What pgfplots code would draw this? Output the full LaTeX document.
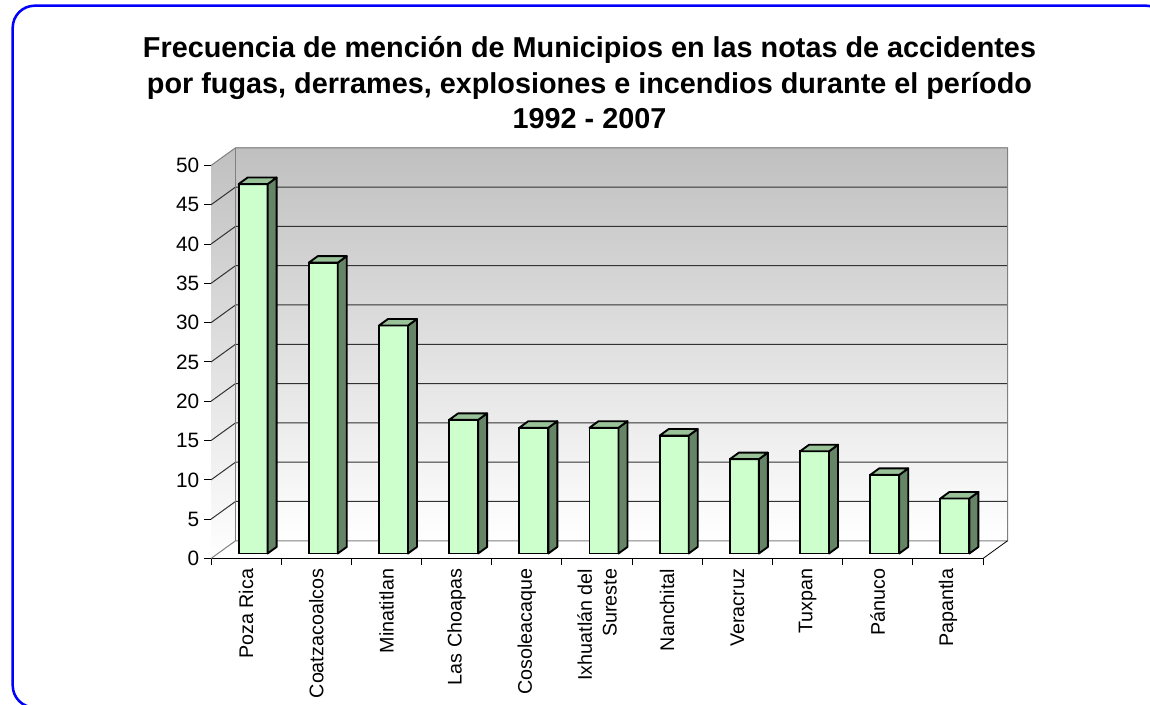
\documentclass[border=0pt]{standalone}
\usepackage{pgfplots}
\pgfplotsset{compat=1.18}
\usepackage{pgfplotstable}
\usepackage{fontspec}
\setmainfont{Liberation Sans}
\definecolor{barfront}{RGB}{204,255,204}
\definecolor{bartop}{RGB}{153,194,153}
\definecolor{barside}{RGB}{102,133,102}
\definecolor{wallgray}{RGB}{192,192,192}
\definecolor{edgegray}{RGB}{128,128,128}
\definecolor{gridc}{RGB}{50,50,50}
\definecolor{frameblue}{RGB}{0,0,255}

\pgfplotstableread{
x v
0 47
1 37
2 29
3 17
4 16
5 16
6 15
7 12
8 13
9 10
10 7
}\datatable

\pgfdeclareplotmark{emptymark}{}

\begin{document}
\begin{tikzpicture}[x=0.75pt,y=0.75pt]
\useasboundingbox (0,0) rectangle (1150,705);
\clip (0,0) rectangle (1150,705);
\draw[frameblue, line width=1.9pt, rounded corners=16.5pt] (12.7,-2.5) rectangle (1168,699.3);
\node[align=center, font=\fontsize{21.6}{26.6}\selectfont\bfseries] at (589.5,622)
  {Frecuencia de mención de Municipios en las notas de accidentes\\por fugas, derrames, explosiones e incendios durante el período\\1992 - 2007};
\begin{axis}[
  at={(158.25pt,109.875pt)}, anchor=south west,
  scale only axis, width=579pt, height=294.75pt,
  xmin=-0.5, xmax=10.5, ymin=0, ymax=50,
  clip=false,
  axis x line*=bottom, axis y line*=left,
  x axis line style={black, line width=0.75pt},
  y axis line style={edgegray, line width=0.75pt},
  ytick={0,5,...,50},
  xtick={-0.5,0.5,...,10.5},
  xticklabels={},
  tick align=outside,
  major tick length=5.25pt,
  tick style={black, line width=0.75pt},
  /pgf/number format/assume math mode=true,
  yticklabel style={font=\fontsize{15.6}{18}\selectfont},
  extra x ticks={0,...,10},
  extra x tick labels={Poza Rica,Coatzacoalcos,Minatitlan,Las Choapas,Cosoleacaque,{Ixhuatlán del\\Sureste},Nanchital,Veracruz,Tuxpan,Pánuco,Papantla},
  extra x tick style={major tick length=0pt, tick label style={rotate=90, anchor=east, align=right, font=\fontsize{14.8}{18.5}\selectfont, xshift=-4.2pt}},
]
% walls
\path[top color=wallgray, bottom color=white]
  ([xshift=18.4pt,yshift=13.3pt]axis cs:-0.5,0) rectangle ([xshift=18.4pt,yshift=13.3pt]axis cs:10.5,50);
\path[top color=wallgray, bottom color=white]
  (axis cs:-0.5,0) -- (axis cs:-0.5,50) -- ([xshift=18.4pt,yshift=13.3pt]axis cs:-0.5,50) -- ([xshift=18.4pt,yshift=13.3pt]axis cs:-0.5,0) -- cycle;
\pgfplotsinvokeforeach{5,10,...,45}{
  \draw[gridc, line width=0.75pt] (axis cs:-0.5,#1) -- ([xshift=18.4pt,yshift=13.3pt]axis cs:-0.5,#1) -- ([xshift=18.4pt,yshift=13.3pt]axis cs:10.5,#1);
}
\draw[edgegray, line width=0.75pt] (axis cs:-0.5,0) -- ([xshift=18.4pt,yshift=13.3pt]axis cs:-0.5,0) -- ([xshift=18.4pt,yshift=13.3pt]axis cs:10.5,0) -- ([xshift=18.4pt,yshift=13.3pt]axis cs:10.5,50) -- ([xshift=18.4pt,yshift=13.3pt]axis cs:-0.5,50) -- (axis cs:-0.5,50);
\draw[edgegray, line width=0.75pt] ([xshift=18.4pt,yshift=13.3pt]axis cs:-0.5,0) -- ([xshift=18.4pt,yshift=13.3pt]axis cs:-0.5,50);
\draw[black, line width=0.6pt] (axis cs:10.5,0) -- ([xshift=18.4pt,yshift=13.3pt]axis cs:10.5,0);
% bar top and side faces
\addplot[only marks, scatter, mark=emptymark,
  visualization depends on={rawy \as \barval},
  scatter/@pre marker code/.code={
    \pgfmathsetlengthmacro\yb{3.75pt-\barval*5.895pt}
    \pgfmathsetlengthmacro\ybb{8.65pt-\barval*5.895pt}
    \filldraw[fill=barside, draw=black, line width=1.4pt, line join=round] (16.125pt,\yb) -- (22.875pt,\ybb) -- (22.875pt,8.65pt) -- (16.125pt,3.75pt) -- cycle;
    \filldraw[fill=bartop, draw=black, line width=1.4pt, line join=round] (-5.625pt,3.75pt) -- (1.125pt,8.65pt) -- (22.875pt,8.65pt) -- (16.125pt,3.75pt) -- cycle;
  },
  scatter/@post marker code/.code={},
] table[x=x,y=v]{\datatable};
% bar front faces
\addplot[ybar, bar width=21.75pt, bar shift=0pt, fill=barfront, draw=black, line width=1.4pt, xshift=5.25pt, yshift=3.75pt] table[x=x,y=v]{\datatable};
\end{axis}
\end{tikzpicture}
\end{document}
